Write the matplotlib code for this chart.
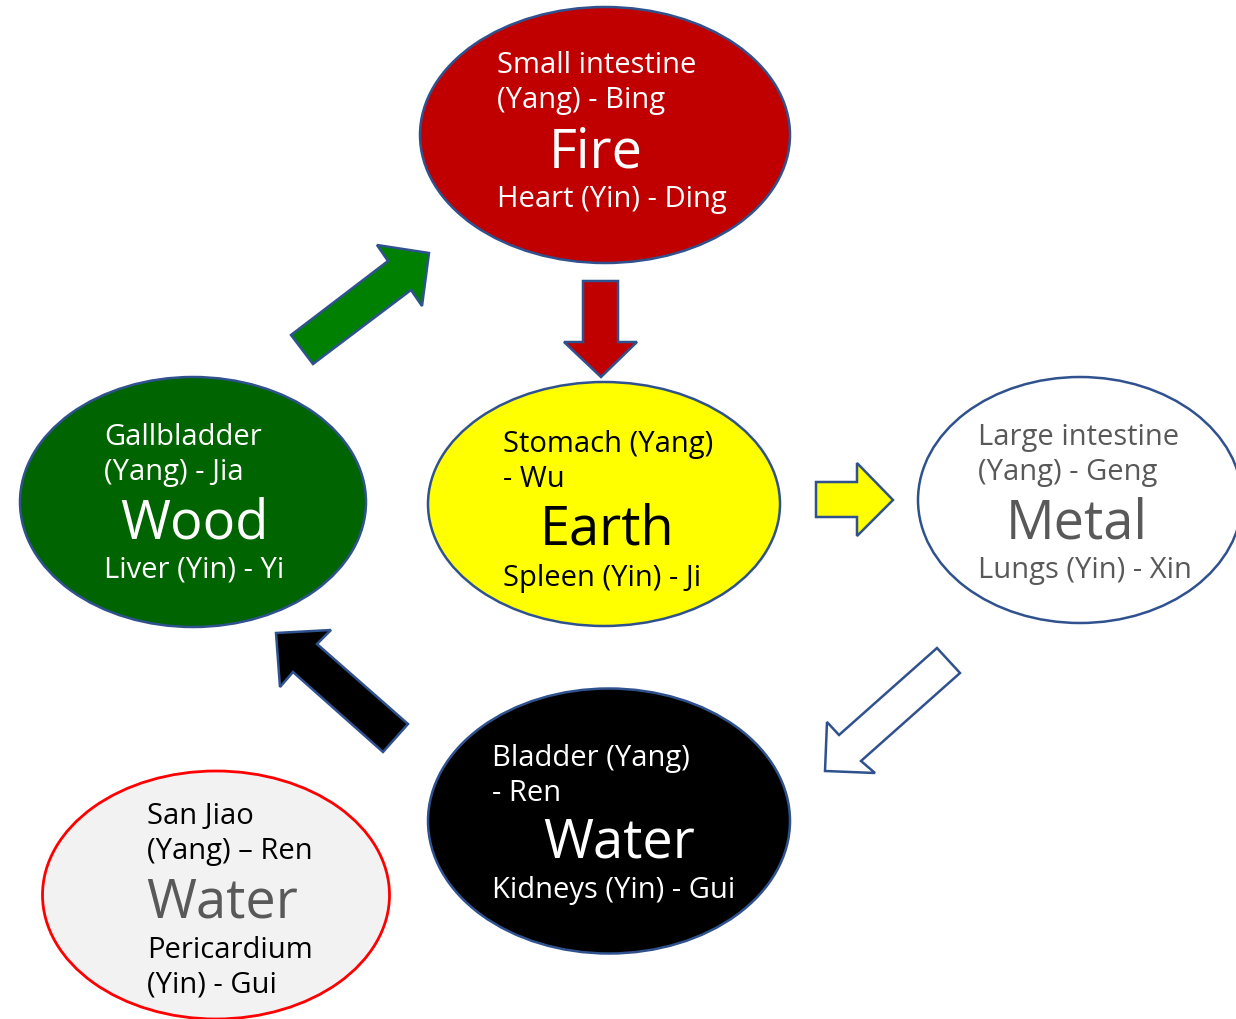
import matplotlib.pyplot as plt
from matplotlib.patches import Ellipse, Polygon

plt.rcParams["font.family"] = ["Open Sans", "DejaVu Sans"]

# element labels
elements = ["Fire", "Earth", "Wood", "Metal", "Water", "Water"]
yang_lines = [
    ["Small intestine", "(Yang) - Bing"],
    ["Stomach (Yang)", "- Wu"],
    ["Gallbladder", "(Yang) - Jia"],
    ["Large intestine", "(Yang) - Geng"],
    ["Bladder (Yang)", "- Ren"],
    ["San Jiao", "(Yang) \u2013 Ren"],
]
yin_lines = [
    ["Heart (Yin) - Ding"],
    ["Spleen (Yin) - Ji"],
    ["Liver (Yin) - Yi"],
    ["Lungs (Yin) - Xin"],
    ["Kidneys (Yin) - Gui"],
    ["Pericardium", "(Yin) - Gui"],
]

# layout (pixel space, y down)
centers = [(605, 136), (604, 505), (193, 503), (1080, 501), (609, 822), (216, 896)]
sizes = [(370, 256), (352, 244), (346, 250), (324, 246), (362, 265), (347, 248)]
fills = ["#C00000", "#FFFF00", "#006400", "#FFFFFF", "#000000", "#F2F2F2"]
edges = ["#2F528F"] * 5 + ["#FF0000"]
small_color = ["white", "black", "white", "#595959", "white", "black"]
big_color = ["white", "black", "white", "#595959", "white", "#595959"]
text_left = [497, 503, 104, 978, 492, 147]
big_center = [596, 607, 194, 1077, 619, 222]
yang_base = [73, 452, 445, 445, 766, 824]
big_base = [167, 545, 539, 539, 858, 918]
yin_base = [207, 586, 578, 578, 898, 958]
line_gap = 35

# arrows as outline vertices
arrows = [
    [(291, 336), (388, 262), (377, 246), (429, 254), (422, 307), (411, 291), (313, 365)],
    [(583, 282), (618, 282), (618, 343), (637, 343), (601, 378), (564, 343), (583, 343)],
    [(816, 483), (857, 483), (857, 464), (893, 501), (857, 537), (857, 518), (816, 518)],
    [(937, 649), (839, 736), (827, 723), (825, 772), (875, 774), (861, 762), (960, 674)],
    [(276, 634), (331, 631), (317, 645), (408, 725), (383, 753), (293, 673), (280, 688)],
]
arrow_fills = ["#008000", "#C00000", "#FFFF00", "#FFFFFF", "#000000"]

fig = plt.figure(figsize=(12.36, 10.20), dpi=100)
ax = fig.add_axes([0, 0, 1, 1])
ax.set_xlim(0, 1236)
ax.set_ylim(1020, 0)
ax.axis("off")

for pts, fc in zip(arrows, arrow_fills):
    ax.add_patch(Polygon(pts, closed=True, facecolor=fc, edgecolor="#2F528F", linewidth=1.8, joinstyle="miter"))

for i in range(len(elements)):
    w, h = sizes[i]
    lw = 2.0 if i == 5 else 1.8
    ax.add_patch(Ellipse(centers[i], w, h, facecolor=fills[i], edgecolor=edges[i], linewidth=lw))

    for k, line in enumerate(yang_lines[i]):
        ax.text(text_left[i], yang_base[i] + k * line_gap, line, ha="left", va="baseline",
                fontsize=21, color=small_color[i])
    ax.text(big_center[i], big_base[i], elements[i], ha="center", va="baseline",
            fontsize=39, color=big_color[i])
    for k, line in enumerate(yin_lines[i]):
        ax.text(text_left[i], yin_base[i] + k * line_gap, line, ha="left", va="baseline",
                fontsize=21, color=small_color[i])

fig.savefig("out.png", dpi=100)
plt.close(fig)
